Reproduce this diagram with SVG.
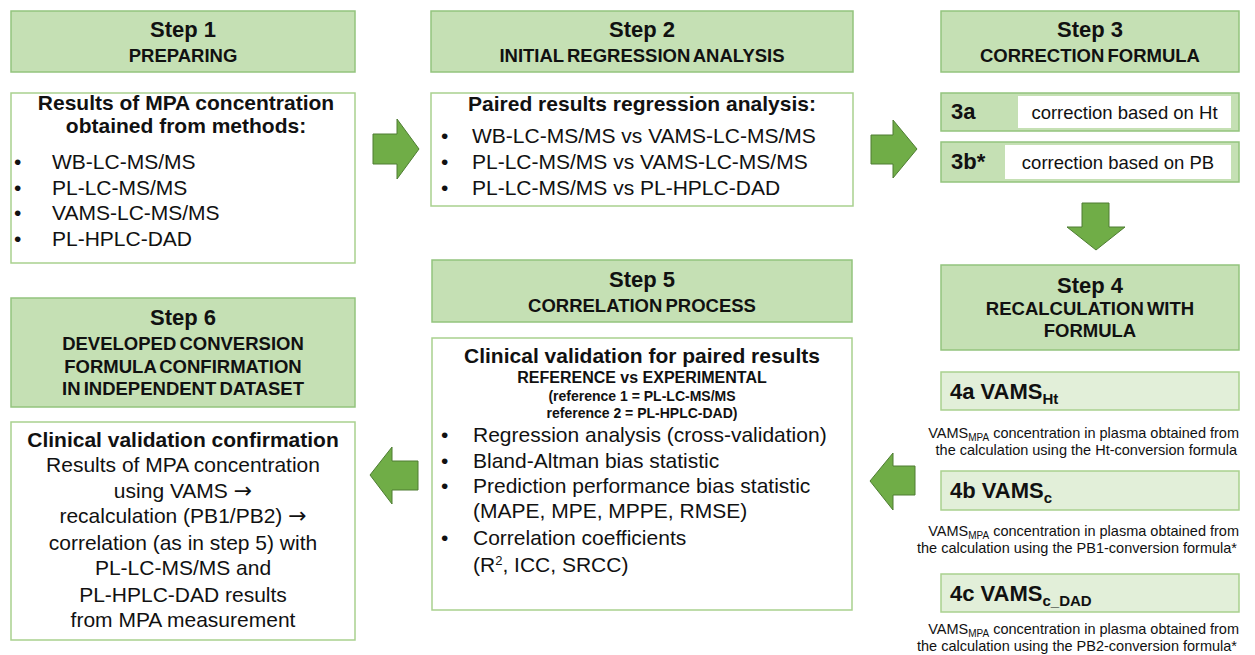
<svg xmlns="http://www.w3.org/2000/svg" width="1255" height="655" viewBox="0 0 1255 655">
  <style>
    .hdr { fill: #c5e0b4; stroke: #93c47d; stroke-width: 1.5; }
    .body { fill: #ffffff; stroke: #a9d18e; stroke-width: 1.5; }
    .sub { fill: #e2efd9; stroke: #a9d18e; stroke-width: 1.5; }
    .inner { fill: #ffffff; stroke: none; }
    .arrow { fill: #70ad47; stroke: #4e7d32; stroke-width: 1; }
    text { font-family: "Liberation Sans", Arial, sans-serif; fill: #111111; }
    .title { font-size: 22px; font-weight: bold; text-anchor: middle; }
    .caps { font-size: 18.5px; font-weight: bold; text-anchor: middle; word-spacing: -2px; }
    .lead { font-size: 21px; font-weight: bold; }
    .mid { text-anchor: middle; }
    .item { font-size: 21px; }
    .ref { font-size: 16px; font-weight: bold; text-anchor: middle; }
    .ref2 { font-size: 14px; font-weight: bold; text-anchor: middle; }
    .formula { font-size: 18.5px; text-anchor: middle; }
    .tag { font-size: 22px; font-weight: bold; }
    .note { font-size: 14.5px; text-anchor: end; }
    .then { font-family: "DejaVu Sans", sans-serif; font-size: 22px; }
  </style>

  <!-- Step 1 -->
  <g id="step1">
    <rect class="hdr" x="11" y="11" width="344" height="61"/>
    <text class="title" x="183" y="37">Step 1</text>
    <text class="caps" x="183" y="62">PREPARING</text>
    <rect class="body" x="11" y="93" width="344" height="170"/>
    <text class="lead mid" x="186" y="110">Results of MPA concentration</text>
    <text class="lead mid" x="186" y="133">obtained from methods:</text>
    <text class="item" x="14" y="169">•</text><text class="item" x="52" y="169">WB-LC-MS/MS</text>
    <text class="item" x="14" y="195">•</text><text class="item" x="52" y="195">PL-LC-MS/MS</text>
    <text class="item" x="14" y="220">•</text><text class="item" x="52" y="220">VAMS-LC-MS/MS</text>
    <text class="item" x="14" y="246">•</text><text class="item" x="52" y="246">PL-HPLC-DAD</text>
  </g>

  <!-- Step 2 -->
  <g id="step2">
    <rect class="hdr" x="431" y="11" width="422" height="61"/>
    <text class="title" x="642" y="37">Step 2</text>
    <text class="caps" x="642" y="62">INITIAL REGRESSION ANALYSIS</text>
    <rect class="body" x="431" y="93" width="422" height="113"/>
    <text class="lead mid" x="642" y="111">Paired results regression analysis:</text>
    <text class="item" x="441" y="143">•</text><text class="item" x="472" y="143">WB-LC-MS/MS vs VAMS-LC-MS/MS</text>
    <text class="item" x="441" y="169">•</text><text class="item" x="472" y="169">PL-LC-MS/MS vs VAMS-LC-MS/MS</text>
    <text class="item" x="441" y="195">•</text><text class="item" x="472" y="195">PL-LC-MS/MS vs PL-HPLC-DAD</text>
  </g>

  <!-- Step 3 -->
  <g id="step3">
    <rect class="hdr" x="941" y="11" width="298" height="61"/>
    <text class="title" x="1090" y="37">Step 3</text>
    <text class="caps" x="1090" y="62">CORRECTION FORMULA</text>
  </g>
  <g id="step3a">
    <rect class="hdr" x="941" y="93" width="298" height="38"/>
    <rect class="inner" x="1018" y="96" width="213" height="32"/>
    <text class="tag" x="951" y="119">3a</text>
    <text class="formula" x="1124.5" y="119">correction based on Ht</text>
  </g>
  <g id="step3b">
    <rect class="hdr" x="941" y="142" width="298" height="40"/>
    <rect class="inner" x="1005" y="145" width="226" height="34"/>
    <text class="tag" x="951" y="169">3b*</text>
    <text class="formula" x="1118" y="169">correction based on PB</text>
  </g>

  <!-- Step 4 -->
  <g id="step4">
    <rect class="hdr" x="941" y="265" width="298" height="85"/>
    <text class="title" x="1090" y="293">Step 4</text>
    <text class="caps" x="1090" y="315">RECALCULATION WITH</text>
    <text class="caps" x="1090" y="337">FORMULA</text>
  </g>
  <g id="step4a">
    <rect class="sub" x="941" y="372" width="298" height="38"/>
    <text class="tag" x="950" y="399">4a VAMS<tspan font-size="15px" dy="5">Ht</tspan></text>
    <text class="note" x="1239" y="438">VAMS<tspan font-size="10px" dy="3">MPA</tspan><tspan dy="-3"> concentration in plasma obtained from</tspan></text>
    <text class="note" x="1237" y="455">the calculation using the Ht-conversion formula</text>
  </g>
  <g id="step4b">
    <rect class="sub" x="941" y="471" width="298" height="39"/>
    <text class="tag" x="950" y="498">4b VAMS<tspan font-size="15px" dy="5">c</tspan></text>
    <text class="note" x="1239" y="536">VAMS<tspan font-size="10px" dy="3">MPA</tspan><tspan dy="-3"> concentration in plasma obtained from</tspan></text>
    <text class="note" x="1237" y="553">the calculation using the PB1-conversion formula*</text>
  </g>
  <g id="step4c">
    <rect class="sub" x="941" y="574" width="298" height="38"/>
    <text class="tag" x="950" y="601">4c VAMS<tspan font-size="15px" dy="5">c_DAD</tspan></text>
    <text class="note" x="1239" y="634">VAMS<tspan font-size="10px" dy="3">MPA</tspan><tspan dy="-3"> concentration in plasma obtained from</tspan></text>
    <text class="note" x="1237" y="651">the calculation using the PB2-conversion formula*</text>
  </g>

  <!-- Step 5 -->
  <g id="step5">
    <rect class="hdr" x="432" y="260" width="420" height="62"/>
    <text class="title" x="642" y="287">Step 5</text>
    <text class="caps" x="642" y="312">CORRELATION PROCESS</text>
    <rect class="body" x="432" y="338" width="420" height="272"/>
    <text class="lead mid" x="642" y="363">Clinical validation for paired results</text>
    <text class="ref" x="642" y="383">REFERENCE vs EXPERIMENTAL</text>
    <text class="ref2" x="642" y="401">(reference 1 = PL-LC-MS/MS</text>
    <text class="ref2" x="642" y="418">reference 2 = PL-HPLC-DAD)</text>
    <text class="item" x="441" y="442">•</text><text class="item" x="473" y="442">Regression analysis (cross-validation)</text>
    <text class="item" x="441" y="468">•</text><text class="item" x="473" y="468">Bland-Altman bias statistic</text>
    <text class="item" x="441" y="493">•</text><text class="item" x="473" y="493">Prediction performance bias statistic</text>
    <text class="item" x="473" y="518">(MAPE, MPE, MPPE, RMSE)</text>
    <text class="item" x="441" y="545">•</text><text class="item" x="473" y="545">Correlation coefficients</text>
    <text class="item" x="473" y="572">(R<tspan font-size="13px" dy="-7">2</tspan><tspan dy="7">, ICC, SRCC)</tspan></text>
  </g>

  <!-- Step 6 -->
  <g id="step6">
    <rect class="hdr" x="11" y="298" width="344" height="109"/>
    <text class="title" x="183" y="325">Step 6</text>
    <text class="caps" x="183" y="350">DEVELOPED CONVERSION</text>
    <text class="caps" x="183" y="373">FORMULA CONFIRMATION</text>
    <text class="caps" x="183" y="395">IN INDEPENDENT DATASET</text>
    <rect class="body" x="11" y="422" width="344" height="218"/>
    <text class="lead mid" x="183" y="447">Clinical validation confirmation</text>
    <text class="item mid" x="183" y="472">Results of MPA concentration</text>
    <text class="item mid" x="183" y="498">using VAMS <tspan class="then">→</tspan></text>
    <text class="item mid" x="183" y="523">recalculation (PB1/PB2) <tspan class="then">→</tspan></text>
    <text class="item mid" x="183" y="550">correlation (as in step 5) with</text>
    <text class="item mid" x="183" y="575">PL-LC-MS/MS and</text>
    <text class="item mid" x="183" y="602">PL-HPLC-DAD results</text>
    <text class="item mid" x="183" y="627">from MPA measurement</text>
  </g>

  <!-- Block arrows between steps -->
  <g id="connectors">
    <polygon class="arrow" points="373,134 397,134 397,119 419,149 397,179 397,164 373,164"/>
    <polygon class="arrow" points="871,135 893,135 893,120 917,149 893,178 893,164 871,164"/>
    <polygon class="arrow" points="1082,203 1109,203 1109,227 1125,227 1096,250 1067,227 1082,227"/>
    <polygon class="arrow" points="915,466 893,466 893,453 870,481 893,510 893,495 915,495"/>
    <polygon class="arrow" points="418,461 392,461 392,447 370,475 392,504 392,490 418,490"/>
  </g>
</svg>
